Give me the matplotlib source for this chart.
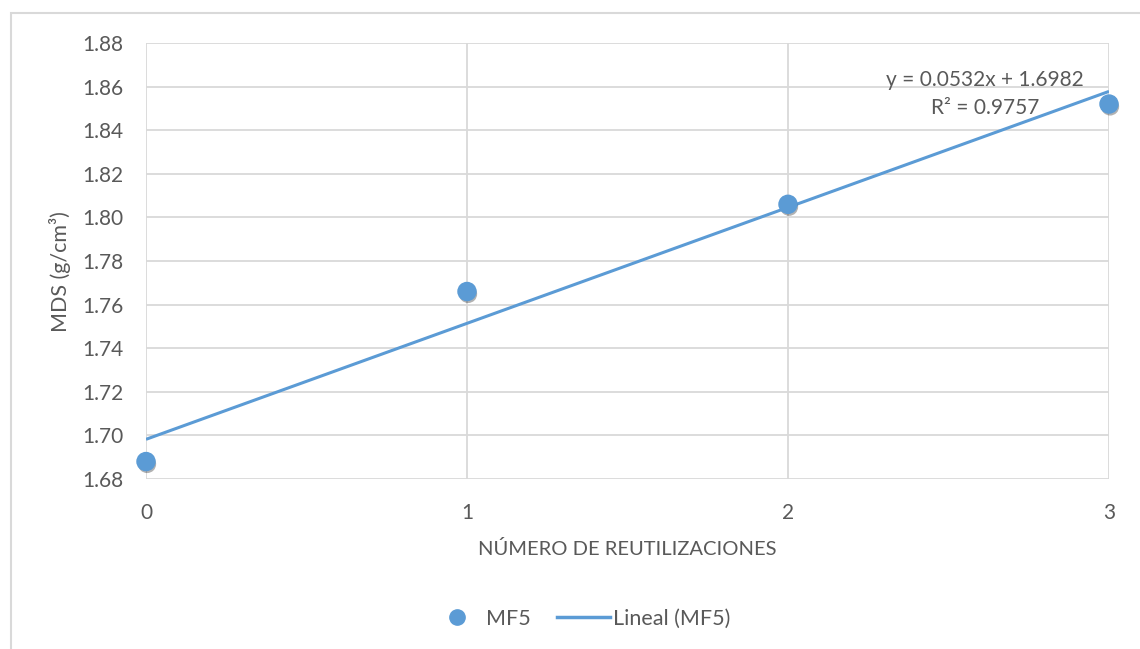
import numpy as np
import matplotlib
matplotlib.use("Agg")
import matplotlib.pyplot as plt
from matplotlib.lines import Line2D
from matplotlib.patches import Rectangle
import matplotlib.patheffects as pe

x_vals = [0, 1, 2, 3]
mds_vals = [1.688, 1.766, 1.806, 1.852]
y_ticks = [1.68, 1.70, 1.72, 1.74, 1.76, 1.78, 1.80, 1.82, 1.84, 1.86, 1.88]
x_ticks = [0, 1, 2, 3]
series_name = "MF5"
trend_name = "Lineal (MF5)"
x_label = "NÚMERO DE REUTILIZACIONES"
y_label = "MDS (g/cm³)"

plt.rcParams['font.family'] = ['Lato', 'DejaVu Sans']
blue = "#5b9bd5"
txt = "#595959"
grid_c = "#d9d9d9"

fig = plt.figure(figsize=(11.4, 6.49), dpi=100)
ax = fig.add_axes([146/1140, 1-479/649, (1109-146)/1140, (479-43)/649])

# outer chart border (left and top visible)
fig.patches.append(Rectangle((11/1140, -0.1), 1.2, 1 - 13/649 + 0.1, transform=fig.transFigure,
                             fill=False, edgecolor="#d9d9d9", linewidth=1.5))

slope, intercept = np.polyfit(x_vals, mds_vals, 1)
yarr = np.array(mds_vals)
ss_res = np.sum((yarr - (slope*np.array(x_vals) + intercept))**2)
ss_tot = np.sum((yarr - yarr.mean())**2)
r2 = 1 - ss_res/ss_tot

xt = np.array([x_vals[0], x_vals[-1]])
ax.plot(xt, slope*xt + intercept, color=blue, linewidth=2.2, zorder=3, solid_capstyle='butt')

ax.plot(x_vals, mds_vals, linestyle='none', marker='o', markersize=13,
        markerfacecolor=blue, markeredgecolor=blue, zorder=4, clip_on=False,
        path_effects=[pe.SimplePatchShadow(offset=(0.8, -1.8), shadow_rgbFace='#000000', alpha=0.3), pe.Normal()])

ax.set_xlim(0, 3)
ax.set_ylim(1.68, 1.88)
ax.set_xticks(x_ticks)
ax.set_yticks(y_ticks)
ax.set_yticklabels([f"{v:.2f}" for v in y_ticks])
ax.grid(True, color=grid_c, linewidth=1.3)
ax.set_axisbelow(True)
for s in ax.spines.values():
    s.set_visible(False)
ax.tick_params(length=0, labelsize=15, labelcolor=txt)
ax.tick_params(axis='y', pad=16.5)
ax.tick_params(axis='x', pad=17)

ax.set_xlabel(x_label, fontsize=14.5, color=txt, va='center')
ax.xaxis.set_label_coords(0.5, (479-549)/436)
ax.set_ylabel(y_label, fontsize=15.5, color=txt, va='center')
ax.yaxis.set_label_coords((60-146)/963, (479-271.5)/436)

fig.text(985/1140, 1-80/649, f"y = {slope:.4f}x + {intercept:.4f}", ha='center', va='center',
         fontsize=15, color=txt)
fig.text(985/1140, 1-108/649, f"R² = {r2:.4f}", ha='center', va='center',
         fontsize=15, color=txt)

handles = [Line2D([], [], linestyle='none', marker='o', markersize=11, color=blue),
           Line2D([], [], color=blue, linewidth=2.5)]
fig.legend(handles, [series_name, trend_name], loc='center', bbox_to_anchor=(580/1140, 1-619/649),
           ncol=2, frameon=False, fontsize=15.5, labelcolor=txt, handlelength=2.5,
           columnspacing=1.2, handletextpad=0.12)

fig.savefig("out.png", dpi=100, facecolor="white")
